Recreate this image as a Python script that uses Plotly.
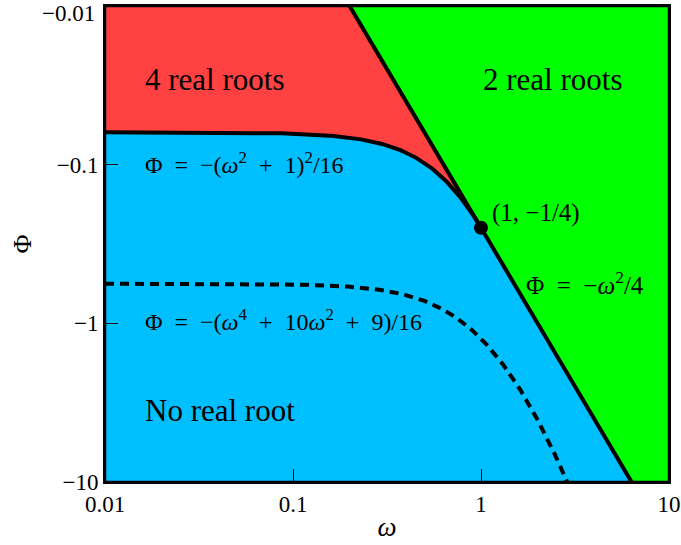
import numpy as np
import plotly.graph_objects as go

# Axis ticks
x_tickvals = [0.01, 0.1, 1, 10]
x_ticktext = ["0.01", "0.1", "1", "10"]
y_tickvals = [0.01, 0.1, 1, 10]          # magnitude of Phi (axis shows -|Phi|)
y_ticktext = ["\u22120.01", "\u22120.1", "\u22121", "\u221210"]

# Curves (functions labelled on the chart); y stored as -Phi
omega = np.logspace(-2, 1, 400)
phi_boundary = (omega**2 + 1)**2 / 16          # Phi = -(w^2+1)^2/16, for w <= 1
phi_line = omega**2 / 4                        # Phi = -w^2/4
phi_dashed = (omega**4 + 10*omega**2 + 9) / 16 # Phi = -(w^4+10w^2+9)/16

tangent_point_x = [1.0]
tangent_point_y = [0.25]

YMIN, YMAX = 0.01, 10
XMIN, XMAX = 0.01, 10

RED = "#ff4141"
GREEN = "#00ff00"
BLUE = "#00bfff"

fig = go.Figure()

# Green region: right of the line
mask_line = (phi_line >= YMIN) & (phi_line <= YMAX)
wl = omega[mask_line]
pl = phi_line[mask_line]
gx = [np.sqrt(4*YMIN)] + list(wl) + [np.sqrt(4*YMAX), XMAX, XMAX]
gy = [YMIN] + list(pl) + [YMAX, YMAX, YMIN]
fig.add_trace(go.Scatter(x=gx, y=gy, fill="toself", fillcolor=GREEN, mode="none",
                         showlegend=False, hoverinfo="skip"))

# Red region: above the quartic boundary and left of the line
mb = omega <= 1
wb = omega[mb]
pb = phi_boundary[mb]
ml = (omega >= np.sqrt(4*YMIN)) & (omega <= 1)
rx = [XMIN, np.sqrt(4*YMIN)] + list(omega[ml]) + [1.0] + list(wb[::-1])
ry = [YMIN, YMIN] + list(phi_line[ml]) + [0.25] + list(pb[::-1])
fig.add_trace(go.Scatter(x=rx, y=ry, fill="toself", fillcolor=RED, mode="none",
                         showlegend=False, hoverinfo="skip"))

# Solid boundary curve
fig.add_trace(go.Scatter(x=wb, y=pb, mode="lines", line=dict(color="black", width=4),
                         showlegend=False, hoverinfo="skip"))
# Solid line
fig.add_trace(go.Scatter(x=[np.sqrt(4*YMIN), np.sqrt(4*YMAX)], y=[YMIN, YMAX], mode="lines",
                         line=dict(color="black", width=4), showlegend=False, hoverinfo="skip"))
# Dashed curve
md = phi_dashed <= YMAX
fig.add_trace(go.Scatter(x=omega[md], y=phi_dashed[md], mode="lines",
                         line=dict(color="black", width=4, dash="9px,6px"),
                         showlegend=False, hoverinfo="skip"))
# Tangent point
fig.add_trace(go.Scatter(x=tangent_point_x, y=tangent_point_y, mode="markers",
                         marker=dict(color="black", size=14), showlegend=False, hoverinfo="skip"))

# Frame drawn as a trace along the axis limits
fig.add_trace(go.Scatter(x=[XMIN, XMAX, XMAX, XMIN, XMIN], y=[YMIN, YMIN, YMAX, YMAX, YMIN],
                         mode="lines", line=dict(color="black", width=2.5), cliponaxis=False,
                         showlegend=False, hoverinfo="skip"))

SERIF = "Liberation Serif, Times New Roman, serif"
SP = "\u2002"  # wider math spacing

def ann(text, x, y, size, xanchor="left"):
    fig.add_annotation(text=text, x=np.log10(x), y=np.log10(y), xref="x", yref="y",
                       showarrow=False, xanchor=xanchor, yanchor="middle",
                       font=dict(family=SERIF, size=size, color="black"))

W = "<i>\u03c9</i>"
ann("4 real roots", 0.0159, 0.0292, 31)
ann("2 real roots", 2.39, 0.0292, 31, xanchor="center")
ann("No real root", 0.0159, 3.52, 31)
ann(f"\u03a6{SP}={SP}\u2212({W}<sup>2</sup>{SP}+{SP}1)<sup>2</sup>/16", 0.0159, 0.0975, 24)
ann(f"\u03a6{SP}={SP}\u2212({W}<sup>4</sup>{SP}+{SP}10{W}<sup>2</sup>{SP}+{SP}9)/16", 0.0159, 0.953, 24)
ann("(1, \u22121/4)", 1.12, 0.201, 25)
ann(f"\u03a6{SP}={SP}\u2212{W}<sup>2</sup>/4", 1.69, 0.56, 25)

# top tick label placed so that it stays inside the page
fig.add_annotation(text=y_ticktext[0], xref="paper", x=0, xshift=-9, xanchor="right",
                   yref="paper", y=1, yanchor="top", yshift=6, borderpad=0,
                   showarrow=False, font=dict(family=SERIF, size=23, color="black"))

fig.update_xaxes(type="log", range=[-2, 1], tickvals=x_tickvals, ticktext=x_ticktext,
                 ticks="inside", ticklen=13, tickwidth=1, tickcolor="black",
                 showline=True, linewidth=2, linecolor="black", mirror=True,
                 layer="above traces", ticklabeloverflow="allow", automargin=False,
                 showgrid=False, zeroline=False,
                 tickfont=dict(family=SERIF, size=23, color="black"),
                 title=dict(text=W, font=dict(family=SERIF, size=27, color="black"),
                            standoff=2))
fig.update_yaxes(type="log", range=[1, -2], tickvals=y_tickvals, ticktext=[""] + y_ticktext[1:],
                 ticks="inside", ticklen=13, tickwidth=1, tickcolor="black",
                 showline=True, linewidth=2, linecolor="black", mirror=True,
                 layer="above traces", ticklabeloverflow="allow", automargin=False,
                 showgrid=False, zeroline=False,
                 tickfont=dict(family=SERIF, size=23, color="black"),
                 title=dict(text="\u03a6", font=dict(family=SERIF, size=26, color="black"),
                            standoff=18))

fig.update_layout(width=681, height=545, margin=dict(l=105, r=12, t=6, b=63),
                  plot_bgcolor=BLUE, paper_bgcolor="white")

fig.write_html("out.html")
